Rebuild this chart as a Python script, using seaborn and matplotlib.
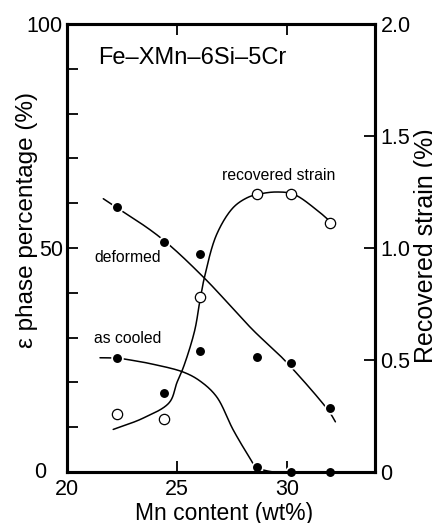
import numpy as np
import pandas as pd
import matplotlib
matplotlib.use("Agg")
import matplotlib.pyplot as plt
import seaborn as sns

# Measured alloys (Fe-XMn-6Si-5Cr)
mn_content = [22.25, 24.4, 26.05, 28.65, 30.2, 31.95]
deformed_pct = [59.2, 51.3, 48.6, 25.6, 24.4, 14.2]
as_cooled_pct = [25.4, 17.6, 27.0, 1.2, 0.0, 0.0]
recovered_strain = [0.26, 0.235, 0.78, 1.24, 1.24, 1.11]

# Hand-drawn trend lines (knots)
deformed_trend_mn = [21.65, 24.2, 26.2, 28.45, 29.9, 31.9, 32.2]
deformed_trend_pct = [61.0, 52.5, 43.5, 31.7, 24.9, 13.6, 11.2]
as_cooled_trend_mn = [21.5, 22.3, 23.0, 23.77, 25.29, 26.05, 26.8, 27.56, 28.32, 28.58, 29.38, 31.0, 34.0]
as_cooled_trend_pct = [25.5, 25.4, 24.9, 24.2, 22.3, 20.3, 16.8, 9.35, 3.05, 1.2, 0.0, 0.0, 0.0]
recovered_trend_mn = [22.1, 23.45, 24.65, 25.0, 25.3, 25.8, 26.05, 26.25, 26.8, 27.55,
                      28.2, 28.7, 29.5, 30.3, 31.35, 32.06]
recovered_trend_strain = [0.19, 0.24, 0.31, 0.40, 0.47, 0.63, 0.77, 0.87, 1.06, 1.18,
                          1.225, 1.24, 1.25, 1.24, 1.17, 1.11]

x_ticks = [20, 25, 30]
left_ticks = list(range(0, 101, 10))
right_ticks = [0, 0.5, 1.0, 1.5, 2.0]
right_labels = ["0", "0.5", "1.0", "1.5", "2.0"]


def smooth(xs, ys, sx, sy, n=40):
    """Centripetal Catmull-Rom curve through the knots (scaled to screen units)."""
    P = np.column_stack([np.asarray(xs, float) * sx, np.asarray(ys, float) * sy])
    P = np.vstack([2 * P[0] - P[1], P, 2 * P[-1] - P[-2]])
    out = []
    for i in range(1, len(P) - 2):
        p0, p1, p2, p3 = P[i - 1], P[i], P[i + 1], P[i + 2]
        t0 = 0.0
        t1 = t0 + max(np.linalg.norm(p1 - p0), 1e-6) ** 0.5
        t2 = t1 + max(np.linalg.norm(p2 - p1), 1e-6) ** 0.5
        t3 = t2 + max(np.linalg.norm(p3 - p2), 1e-6) ** 0.5
        t = np.linspace(t1, t2, n)[:, None]
        a1 = (t1 - t) / (t1 - t0) * p0 + (t - t0) / (t1 - t0) * p1
        a2 = (t2 - t) / (t2 - t1) * p1 + (t - t1) / (t2 - t1) * p2
        a3 = (t3 - t) / (t3 - t2) * p2 + (t - t2) / (t3 - t2) * p3
        b1 = (t2 - t) / (t2 - t0) * a1 + (t - t0) / (t2 - t0) * a2
        b2 = (t3 - t) / (t3 - t1) * a2 + (t - t1) / (t3 - t1) * a3
        c = (t2 - t) / (t2 - t1) * b1 + (t - t1) / (t2 - t1) * b2
        out.append(c if i == len(P) - 3 else c[:-1])
    C = np.vstack(out)
    return C[:, 0] / sx, C[:, 1] / sy


sns.set_theme(style="ticks")
plt.rcParams["font.family"] = ["Liberation Sans", "DejaVu Sans"]
plt.rcParams["axes.unicode_minus"] = False
ink = "black"
for key in ("text.color", "axes.labelcolor", "xtick.color", "ytick.color", "axes.edgecolor"):
    plt.rcParams[key] = ink

fig = plt.figure(figsize=(4.32, 5.23), dpi=100)
ax = fig.add_axes([67 / 432, 1 - 472 / 523, 308 / 432, 448 / 523])
ax2 = ax.twinx()

lw_curve = 1.1

# epsilon phase curves
dx, dy = smooth(deformed_trend_mn, deformed_trend_pct, 22, 4.49)
sns.lineplot(x=dx, y=dy, sort=False, estimator=None, ax=ax, color=ink, linewidth=lw_curve)
cx, cy = smooth(as_cooled_trend_mn, as_cooled_trend_pct, 22, 4.49)
sns.lineplot(x=cx, y=cy, sort=False, estimator=None, ax=ax, color=ink, linewidth=lw_curve, clip_on=False)

eps = pd.DataFrame({
    "mn": mn_content * 2,
    "pct": deformed_pct + as_cooled_pct,
})
sns.scatterplot(data=eps, x="mn", y="pct", ax=ax, color=ink, s=60,
                edgecolor="white", linewidth=1.3, zorder=4, clip_on=False)

# recovered strain
rx, ry = smooth(recovered_trend_mn, recovered_trend_strain, 22, 224)
sns.lineplot(x=rx, y=ry, sort=False, estimator=None, ax=ax2, color=ink, linewidth=lw_curve)
sns.scatterplot(x=mn_content, y=recovered_strain, ax=ax2, color="white", s=55,
                edgecolor=ink, linewidth=0.9, zorder=4, clip_on=False)

ax.set_xlim(20, 34)
ax.set_ylim(0, 100)
ax2.set_ylim(0, 2.0)

ax.set_xticks(x_ticks)
ax.set_xticklabels([str(v) for v in x_ticks])
ax.set_yticks(left_ticks)
ax.set_yticklabels(["" if v not in (50, 100) else str(v) for v in left_ticks])
ax2.set_yticks(right_ticks)
ax2.set_yticklabels(right_labels)

tick_kw = dict(direction="in", length=8, width=1.3, color=ink, labelsize=15.5, labelcolor=ink)
ax.tick_params(axis="x", top=True, pad=5, **tick_kw)
ax.tick_params(axis="y", right=False, pad=3, **tick_kw)
ax2.tick_params(axis="y", pad=4, **tick_kw)

for a in (ax, ax2):
    for s in a.spines.values():
        s.set_linewidth(2.2)
        s.set_color(ink)
        s.set_visible(True)

ax.annotate("0", xy=(0, 0), xycoords="axes fraction", xytext=(-15, 0),
            textcoords="offset points", ha="right", va="center", fontsize=15.5)

ax.set_xlabel("Mn content (wt%)", fontsize=16.5, labelpad=0)
ax.xaxis.set_label_coords(0.51, -0.067)
ax.set_ylabel("ε phase percentage (%)", fontsize=17.5)
ax.yaxis.set_label_coords(-0.095, 0.5625)
ax2.set_ylabel("Recovered strain (%)", fontsize=18)
ax2.yaxis.set_label_coords(1.128, 0.505)

ax.text(21.4, 92.4, "Fe–XMn–6Si–5Cr", fontsize=17, ha="left", va="center")
ax.text(27.05, 66.1, "recovered strain", fontsize=11.3, ha="left", va="center")
ax.text(21.24, 47.9, "deformed", fontsize=11.3, ha="left", va="center")
ax.text(21.22, 29.9, "as cooled", fontsize=11.3, ha="left", va="center")

fig.savefig("out.png", dpi=100)
